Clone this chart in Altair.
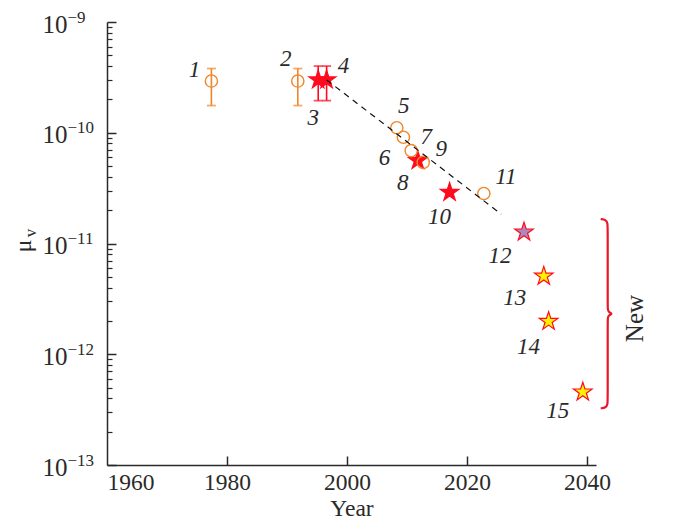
import altair as alt
import pandas as pd
import numpy as np

# ---------------- data ----------------
ids = [str(i) for i in range(1, 16)]
years = [1977.4, 1991.8, 1995.2, 1996.6, 2008.3, 2009.4, 2010.7, 2011.8,
         2012.7, 2017.1, 2022.8, 2029.5, 2032.8, 2033.6, 2039.3]
mu = [2.93e-10, 2.93e-10, 3.0e-10, 3.0e-10, 1.11e-10, 9.1e-11, 6.9e-11, 5.6e-11,
      5.4e-11, 2.9e-11, 2.83e-11, 1.27e-11, 5.07e-12, 1.98e-12, 4.56e-13]
kinds = ["circle", "circle", "red", "red", "circle", "circle", "circle", "red",
         "circle", "red", "circle", "purple", "yellow", "yellow", "yellow"]

err_years = [1977.4, 1991.8, 1995.2, 1996.6]
err_low = [1.76e-10, 1.76e-10, 1.95e-10, 1.95e-10]
err_high = [3.8e-10, 3.8e-10, 4.0e-10, 4.0e-10]
err_kind = ["circle", "circle", "red", "red"]

trend_years = [1996.6, 2025.7]
trend_mu = [3.0e-10, 1.84e-11]

brace_year = 2043.45
brace_top = 1.66e-11
brace_bottom = 3.25e-13
new_year = 2048.0
new_mu = 2.1e-12

x_ticks = [1960, 1980, 2000, 2020, 2040]
y_decades = [1e-13, 1e-12, 1e-11, 1e-10, 1e-9]

# ---------------- layout / style ----------------
W, H = 489, 443
XMIN, XMAX = 1960, 2041.5
PX_YEAR = W / (XMAX - XMIN)
PX_DEC = H / 4.0
FONT = "Liberation Serif"
INK = "#2a2a2a"
ORANGE = "#F0862A"
RED = "#FF0A1E"

# label offsets in pixels from each point (style, not data)
lab_dx = [-17, -12, -5, 17, 7, -19, 15, -15, 18, -10, 22, -24, -29, -20, -25]
lab_dy = [-11, -22, 38, -14, -22, 21, -14, 22, -13, 25, -16, 24, 22, 26, 19]

y_minor = [m * 10.0 ** e for e in range(-13, -9) for m in range(2, 10)]

df = pd.DataFrame({"id": ids, "year": years, "mu": mu, "kind": kinds})
df["lx"] = [y + dx / PX_YEAR for y, dx in zip(years, lab_dx)]
df["ly"] = [m * 10 ** (-dy / PX_DEC) for m, dy in zip(mu, lab_dy)]

err = pd.DataFrame({"year": err_years, "lo": err_low, "hi": err_high, "kind": err_kind})
trend = pd.DataFrame({"year": trend_years, "mu": trend_mu})

# brace path (pixel shape offsets converted into data units)
shape = [(-7, 0), (-2, 0.5), (0, 4), (0, 10), (0, 85), (0, 91), (1, 93.5), (5, 95),
         (1, 96.5), (0, 99), (0, 105), (0, 180), (0, 186), (-2, 189.5), (-7, 190)]
span_px = (np.log10(brace_top) - np.log10(brace_bottom)) * PX_DEC
brace = pd.DataFrame({
    "i": list(range(len(shape))),
    "year": [brace_year + dx / PX_YEAR for dx, dy in shape],
    "mu": [10 ** (np.log10(brace_top) - (dy * span_px / 190.0) / PX_DEC) for dx, dy in shape],
})
new_df = pd.DataFrame({"year": [new_year], "mu": [new_mu], "t": ["New"]})

xs = alt.Scale(domain=[XMIN, XMAX], nice=False, zero=False)
ys = alt.Scale(type="log", domain=[1e-13, 1e-9], nice=False)

exp_expr = ("datum.value < 5e-13 ? '−13' : datum.value < 5e-12 ? '−12' : "
            "datum.value < 5e-11 ? '−11' : datum.value < 5e-10 ? '−10' : '−9'")

x_main = alt.Axis(orient="bottom", values=x_ticks, format="d", ticks=False,
                  domainColor=INK, domainWidth=1.5, labelFont=FONT, labelFontSize=23.5,
                  labelColor=INK, labelPadding=5, title="Year", titleFont=FONT,
                  titleFontSize=23.5, titleFontWeight="normal", titleColor=INK, titlePadding=3)
x_tick_axis = alt.Axis(orient="top", offset=-H, values=x_ticks[1:], labels=False,
                       domain=False, tickSize=9, tickColor=INK, tickWidth=1.5, title=None)
# "10" part of the y labels + the μ title
y_main = alt.Axis(orient="left", values=y_decades, labelExpr="'10'", ticks=False,
                  domainColor=INK, domainWidth=1.5, labelFont=FONT, labelFontSize=25,
                  labelColor=INK, labelPadding=40, labelAlign="right", labelOffset=2,
                  title="μ", titleFont=FONT,
                  titleFontSize=24, titleFontWeight="normal", titleColor=INK,
                  titleX=-83.5, titleY=223.5, titleAlign="center", titleBaseline="middle")
# exponent part of the y labels + the subscript v
y_exp = alt.Axis(orient="left", values=y_decades, labelExpr=exp_expr, ticks=False,
                 domain=False, labelFont=FONT, labelFontSize=17, labelColor=INK,
                 labelPadding=40, labelAlign="left", labelOffset=-5,
                 title="v", titleFont=FONT, titleFontSize=17, titleFontWeight="normal",
                 titleColor=INK, titleX=-77, titleY=210.5, titleAlign="center",
                 titleBaseline="middle")
y_major = alt.Axis(orient="right", offset=-W, values=y_decades, labels=False,
                   domain=False, tickSize=9, tickColor=INK, tickWidth=1.5, title=None)
y_minor_ax = alt.Axis(orient="right", offset=-W, values=y_minor, labels=False,
                      domain=False, tickSize=5, tickColor=INK, tickWidth=1.2, title=None)

trend_layer = alt.Chart(trend).mark_line(color="#111", strokeDash=[6, 5], strokeWidth=1.2).encode(
    x=alt.X("year:Q", scale=xs, axis=x_main),
    y=alt.Y("mu:Q", scale=ys, axis=y_main),
)

color_scale = alt.Scale(domain=["circle", "red", "purple", "yellow"],
                        range=[ORANGE, RED, "#A98AC0", "#FFF200"])
stroke_scale = alt.Scale(domain=["circle", "red", "purple", "yellow"],
                         range=[ORANGE, RED, RED, RED])

rules = alt.Chart(err).mark_rule(strokeWidth=1.6).encode(
    x=alt.X("year:Q", scale=xs, axis=x_tick_axis),
    y=alt.Y("lo:Q", scale=ys, axis=y_major),
    y2="hi:Q",
    color=alt.Color("kind:N", scale=stroke_scale, legend=None),
)
caps_lo = alt.Chart(err).mark_tick(orient="horizontal", size=9, thickness=1.8).encode(
    x=alt.X("year:Q", scale=xs, axis=None),
    y=alt.Y("lo:Q", scale=ys, axis=y_minor_ax),
    color=alt.Color("kind:N", scale=stroke_scale, legend=None),
)
caps_hi = alt.Chart(err).mark_tick(orient="horizontal", size=9, thickness=1.8).encode(
    x=alt.X("year:Q", scale=xs, axis=None),
    y=alt.Y("hi:Q", scale=ys, axis=y_exp),
    color=alt.Color("kind:N", scale=stroke_scale, legend=None),
)

STAR = ("M0,-1L0.2245,-0.309L0.951,-0.309L0.3633,0.118L0.5878,0.809L0,0.382"
        "L-0.5878,0.809L-0.3633,0.118L-0.951,-0.309L-0.2245,-0.309Z")

stars = alt.Chart(df).transform_filter("datum.kind != 'circle'").mark_point(
    shape=STAR, filled=True, size=380, strokeWidth=1.2, opacity=1).encode(
    x=alt.X("year:Q", scale=xs, axis=None),
    y=alt.Y("mu:Q", scale=ys, axis=None),
    fill=alt.Fill("kind:N", scale=color_scale, legend=None),
    stroke=alt.Stroke("kind:N", scale=stroke_scale, legend=None),
)
circles = alt.Chart(df).transform_filter("datum.kind == 'circle'").mark_point(
    shape="circle", filled=False, size=150, strokeWidth=1.4, color=ORANGE, opacity=1).encode(
    x=alt.X("year:Q", scale=xs, axis=None),
    y=alt.Y("mu:Q", scale=ys, axis=None),
)
labels = alt.Chart(df).mark_text(font=FONT, fontSize=23, fontStyle="italic", color=INK,
                                 align="center", baseline="middle").encode(
    x=alt.X("lx:Q", scale=xs, axis=None),
    y=alt.Y("ly:Q", scale=ys, axis=None),
    text="id:N",
)
brace_layer = alt.Chart(brace).mark_line(color="#E8182A", strokeWidth=2.2,
                                         interpolate="basis").encode(
    x=alt.X("year:Q", scale=xs, axis=None),
    y=alt.Y("mu:Q", scale=ys, axis=None),
    order="i:Q",
)
new_text = alt.Chart(new_df).mark_text(font=FONT, fontSize=25, color=INK, angle=270,
                                       align="center", baseline="middle").encode(
    x=alt.X("year:Q", scale=xs, axis=None),
    y=alt.Y("mu:Q", scale=ys, axis=None),
    text="t:N",
)

chart = alt.layer(
    rules, caps_lo, caps_hi, stars, circles, trend_layer, labels, brace_layer, new_text
).resolve_axis(x="independent", y="independent").properties(
    width=W, height=H,
    autosize=alt.AutoSizeParams(type="none"),
    padding={"left": 99, "top": 14, "right": 60, "bottom": 58},
).configure_view(stroke=None).configure_axis(grid=False)

chart.save("out.html", embed_options={"renderer": "svg", "actions": False})
